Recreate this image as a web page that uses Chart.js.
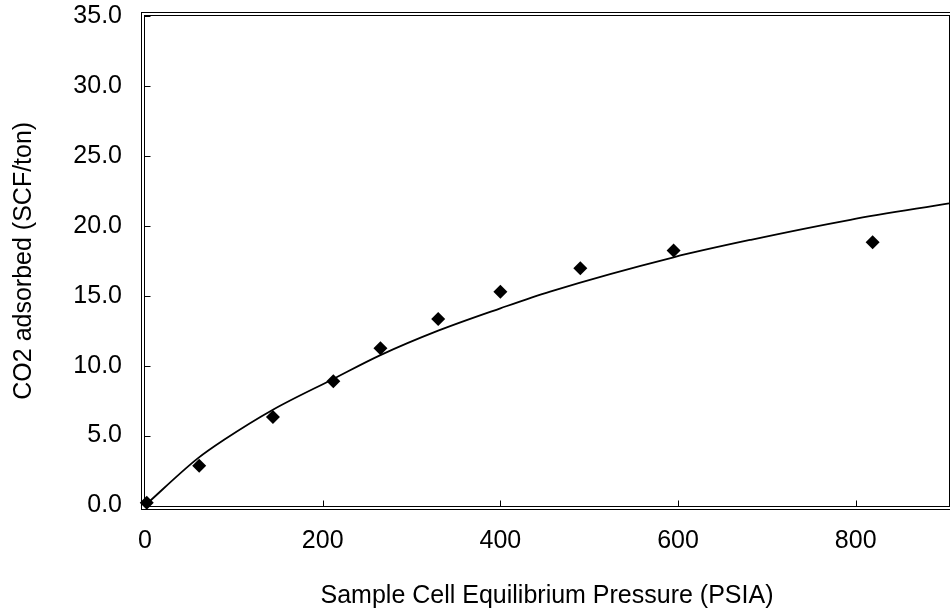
<!DOCTYPE html>
<html>
<head>
<meta charset="utf-8">
<script src="https://cdn.jsdelivr.net/npm/chart.js@4/dist/chart.umd.min.js"></script>
<style>
  html, body { margin: 0; padding: 0; background: #fff; }
  #box { width: 950px; height: 613px; }
</style>
</head>
<body>
<div id="box"><canvas id="isoChart"></canvas></div>
<script>
// measured points (pressure in PSIA, CO2 adsorbed in SCF/ton)
const measPressure = [2, 61, 144, 212, 265, 330, 400, 490, 595, 819];
const measCO2 = [0.2, 2.85, 6.33, 8.88, 11.24, 13.34, 15.29, 16.97, 18.23, 18.83];

// fitted curve
const fitPressure = [0, 59, 89, 144, 212, 265, 330, 400, 456, 595, 682, 794, 905];
const fitCO2 = [0, 3.35, 4.7, 6.85, 9.05, 10.75, 12.5, 14.1, 15.3, 17.75, 19.0, 20.43, 21.6];

// axes
const xTicks = [0, 200, 400, 600, 800];
const yTicks = [0, 5, 10, 15, 20, 25, 30, 35];

const xTitle = 'Sample Cell Equilibrium Pressure (PSIA)';
const yTitle = 'CO2 adsorbed (SCF/ton)';

document.addEventListener("DOMContentLoaded", () => {

    const fontFam = '"Liberation Sans", Arial, sans-serif';

    // double frame + inside ticks, like the old Excel plot area
    const framePlugin = {
        id: 'frame',
        beforeDatasetsDraw(chart) {
            const { ctx, chartArea: a, scales } = chart;
            ctx.save();
            ctx.strokeStyle = '#000';
            ctx.lineWidth = 1;
            const l = Math.round(a.left) - 0.5, t = Math.round(a.top) - 0.5;
            const r = Math.round(a.right) + 0.5, b = Math.round(a.bottom) + 0.5;
            ctx.strokeRect(l, t, r - l, b - t);
            ctx.strokeRect(l - 3, t - 3, r - l + 6, b - t + 6);

            // tick marks pointing into the plot
            ctx.beginPath();
            yTicks.forEach(v => {
                const y = Math.round(scales.y.getPixelForValue(v)) + 0.5;
                ctx.moveTo(l, y);
                ctx.lineTo(l + 6, y);
            });
            xTicks.forEach(v => {
                const x = Math.round(scales.x.getPixelForValue(v)) + 0.5;
                ctx.moveTo(x, b);
                ctx.lineTo(x, b - 6);
            });
            ctx.stroke();
            ctx.restore();
        }
    };

    // no extra room for labels hanging over the plot edges
    const noOverflow = s => {
        s.paddingTop = 0;
        s.paddingBottom = 0;
        s.paddingLeft = 0;
        s.paddingRight = 0;
    };

    const ctx = document.getElementById('isoChart').getContext('2d');

    new Chart(ctx, {
        type: 'scatter',
        data: {
            datasets: [
                {
                    label: 'fit',
                    data: fitPressure.map((p, i) => ({ x: p, y: fitCO2[i] })),
                    showLine: true,
                    borderColor: '#000',
                    borderWidth: 1.8,
                    pointRadius: 0,
                    cubicInterpolationMode: 'monotone',
                    order: 2
                },
                {
                    label: 'measured',
                    data: measPressure.map((p, i) => ({ x: p, y: measCO2[i] })),
                    showLine: false,
                    pointStyle: 'rectRot',
                    pointRadius: 7,
                    backgroundColor: '#000',
                    borderColor: '#000',
                    borderWidth: 0,
                    order: 1
                }
            ]
        },
        options: {
            responsive: true,
            maintainAspectRatio: false,
            animation: false,
            clip: false,
            layout: {
                autoPadding: false, // point radius would otherwise shrink the plot
                padding: { top: 16, right: 1, left: 0, bottom: 0 }
            },
            scales: {
                x: {
                    type: 'linear',
                    min: 0,
                    max: 905,
                    grid: { display: false, drawTicks: false },
                    border: { display: false },
                    ticks: {
                        stepSize: 200,
                        includeBounds: false,
                        color: '#000',
                        padding: 21,
                        font: { family: fontFam, size: 25 }
                    },
                    title: {
                        display: true,
                        text: xTitle,
                        color: '#000',
                        font: { family: fontFam, size: 25 },
                        padding: { top: 0, bottom: 2 }
                    },
                    afterFit: s => { s.height = 107.5; noOverflow(s); }
                },
                y: {
                    min: 0,
                    max: 35,
                    grid: { display: false, drawTicks: false },
                    border: { display: false },
                    ticks: {
                        stepSize: 5,
                        color: '#000',
                        padding: 23,
                        font: { family: fontFam, size: 25 },
                        callback: v => v.toFixed(1)
                    },
                    title: {
                        display: true,
                        text: yTitle,
                        color: '#000',
                        font: { family: fontFam, size: 25 },
                        padding: { top: 9, bottom: 0 }
                    },
                    afterFit: s => { s.width = 145; noOverflow(s); }
                }
            },
            plugins: {
                legend: { display: false },
                tooltip: { enabled: false }
            }
        },
        plugins: [framePlugin]
    });
});
</script>
</body>
</html>
